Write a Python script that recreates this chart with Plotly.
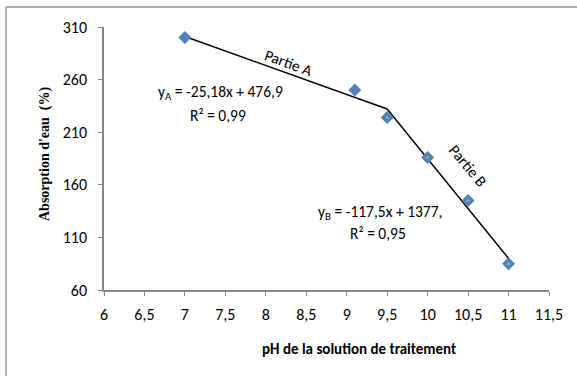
import plotly.graph_objects as go

# Data
ph = [7, 9.1, 9.5, 10, 10.5, 11]
absorption = [300, 250, 224, 186, 145, 85]
ph_b = [9.5, 10, 10.5, 11]
absorption_b = [224, 186, 145, 85]
line_a_x = [7, 9.5]
line_a_y = [301, 232]
line_b_x = [9.5, 11]
line_b_y = [232, 90]
x_ticks = [6, 6.5, 7, 7.5, 8, 8.5, 9, 9.5, 10, 10.5, 11, 11.5]
x_ticktext = ["6", "6,5", "7", "7,5", "8", "8,5", "9", "9,5", "10", "10,5", "11", "11,5"]
y_ticks = [60, 110, 160, 210, 260, 310]

FONT = "Carlito, 'Liberation Sans Narrow', 'Noto Sans', sans-serif"

fig = go.Figure()
fig.add_trace(go.Scatter(x=line_a_x, y=line_a_y, mode="lines",
                         line=dict(color="black", width=1.5), showlegend=False))
fig.add_trace(go.Scatter(x=line_b_x, y=line_b_y, mode="lines",
                         line=dict(color="black", width=1.5), showlegend=False))
fig.add_trace(go.Scatter(x=ph, y=absorption, mode="markers",
                         marker=dict(symbol="diamond", size=10, color="#4F81BD",
                                     line=dict(width=0)), showlegend=False))
fig.add_trace(go.Scatter(x=ph_b, y=absorption_b, mode="markers",
                         marker=dict(symbol="triangle-up", size=4, color="#9BBB59",
                                     line=dict(width=0)), showlegend=False))

W, H = 577, 376
ml, mr, mt, mb = 104, 28, 27, 86
pw, ph_ = W - ml - mr, H - mt - mb

ann_font = dict(family=FONT, size=15.5, color="black")
annotations = [
    dict(x=288, y=62, text="Partie A", textangle=20),
    dict(x=468, y=165, text="Partie B", textangle=50),
    dict(x=220, y=93, text="y<sub>A</sub> = -25,18x + 476,9", textangle=0),
    dict(x=218, y=115, text="R² = 0,99", textangle=0),
    dict(x=380, y=212, text="y<sub>B</sub> = -117,5x + 1377,", textangle=0),
    dict(x=378, y=233, text="R² = 0,95", textangle=0),
]
for a in annotations:
    fig.add_annotation(x=(a["x"] - ml) / pw, y=1 - (a["y"] - mt) / ph_,
                       xref="paper", yref="paper",
                       text=a["text"], textangle=a["textangle"], showarrow=False,
                       font=ann_font, xanchor="center", yanchor="middle")

# axis titles
fig.add_annotation(x=(359 - ml) / pw, y=1 - (360 - mt) / ph_, xref="paper", yref="paper",
                   text="<b>pH de la solution de traitement</b>", showarrow=False,
                   font=dict(family=FONT, size=15, color="black"))
fig.add_annotation(x=(35 - ml) / pw, y=1 - (154 - mt) / ph_, xref="paper", yref="paper",
                   text="<b>Absorption d'eau  (%)</b>", showarrow=False, textangle=-90,
                   font=dict(family="'Liberation Serif', serif", size=14, color="black"))

# outer border (left and top edges only visible)
bx0, by0 = (6 - ml) / pw, 1 - (7 - mt) / ph_
fig.add_shape(type="line", xref="paper", yref="paper",
              x0=bx0, x1=bx0, y0=by0, y1=1 - (H + 5 - mt) / ph_,
              line=dict(color="#B0B0B0", width=2))
fig.add_shape(type="line", xref="paper", yref="paper",
              x0=bx0, x1=(W + 5 - ml) / pw, y0=by0, y1=by0,
              line=dict(color="#B0B0B0", width=2))

fig.update_layout(
    width=W, height=H,
    margin=dict(l=ml, r=mr, t=mt, b=mb),
    paper_bgcolor="white", plot_bgcolor="white",
    font=dict(family=FONT, size=16, color="black"),
    xaxis=dict(range=[6, 11.5], tickvals=x_ticks, ticktext=x_ticktext,
               showgrid=False, zeroline=False, showline=True, linecolor="#868686",
               linewidth=1.5, ticks="outside", ticklen=4, tickcolor="#868686",
               ticklabelstandoff=5, tickfont=dict(family=FONT, size=16)),
    yaxis=dict(range=[60, 310], tickvals=y_ticks, showgrid=False, zeroline=False,
               showline=True, linecolor="#868686", linewidth=1.5, ticks="outside",
               ticklen=4, tickcolor="#868686", ticklabelstandoff=8,
               tickfont=dict(family=FONT, size=16)),
)

fig.write_html("out.html")
